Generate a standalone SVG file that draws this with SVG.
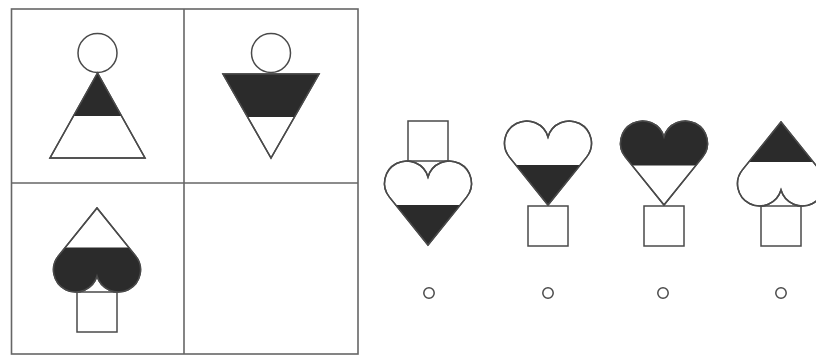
<svg xmlns="http://www.w3.org/2000/svg" xmlns:xlink="http://www.w3.org/1999/xlink" width="816" height="356" viewBox="0 0 816 356">
<style>
.ln{fill:none;stroke:#4a4a4a;stroke-width:1.5}
.wh{fill:#fff;stroke:#4a4a4a;stroke-width:1.5}
.bk{fill:#2b2b2b;stroke:none}
.grid{fill:none;stroke:#666;stroke-width:1.6}
</style>
<defs>
<path id="heart" d="M0,15.94 A22.2,22.2 0 1 1 38.58,36.14 L0,84 L-38.58,36.14 A22.2,22.2 0 1 1 0,15.94 Z"/>
<clipPath id="low" clipPathUnits="userSpaceOnUse"><rect x="-50" y="44" width="100" height="50"/></clipPath>
<clipPath id="up" clipPathUnits="userSpaceOnUse"><rect x="-50" y="-10" width="100" height="54.5"/></clipPath>
</defs>
<rect width="816" height="356" fill="#fff"/>
<g id="grid">
<rect class="grid" x="11.5" y="9" width="346.5" height="345"/>
<line class="grid" x1="184" y1="9" x2="184" y2="354"/>
<line class="grid" x1="11.5" y1="183" x2="358" y2="183"/>
</g>
<g id="cell1">
<circle class="wh" cx="97.5" cy="53" r="19.5"/>
<polygon class="wh" points="97.5,73 50,158 145,158"/>
<polygon class="bk" points="97.5,73 73.5,116 121.5,116"/>
<polygon class="ln" points="97.5,73 50,158 145,158"/>
</g>
<g id="cell2">
<circle class="wh" cx="271" cy="53" r="19.5"/>
<polygon class="wh" points="223,74 319,74 271,158"/>
<polygon class="bk" points="223,74 319,74 294.4,117 247.6,117"/>
<polygon class="ln" points="223,74 319,74 271,158"/>
</g>
<g id="cell3">
<rect class="wh" x="77" y="292" width="40" height="40"/>
<g transform="translate(97,292) scale(1,-1)">
<use xlink:href="#heart" class="wh"/>
<use xlink:href="#heart" class="bk" clip-path="url(#up)"/>
<use xlink:href="#heart" class="ln"/>
</g>
</g>
<g id="option1">
<g transform="translate(428,161)">
<use xlink:href="#heart" class="wh"/>
<use xlink:href="#heart" class="bk" clip-path="url(#low)"/>
<use xlink:href="#heart" class="ln"/>
</g>
<rect class="ln" x="408" y="121" width="40" height="40"/>
<circle class="ln" cx="429" cy="293" r="5.2"/>
</g>
<g id="option2">
<g transform="translate(548,121)">
<use xlink:href="#heart" class="wh"/>
<use xlink:href="#heart" class="bk" clip-path="url(#low)"/>
<use xlink:href="#heart" class="ln"/>
</g>
<rect class="wh" x="528" y="206" width="40" height="40"/>
<circle class="ln" cx="548" cy="293" r="5.2"/>
</g>
<g id="option3">
<g transform="translate(664,121)">
<use xlink:href="#heart" class="wh"/>
<use xlink:href="#heart" class="bk" clip-path="url(#up)"/>
<use xlink:href="#heart" class="ln"/>
</g>
<rect class="wh" x="644" y="206" width="40" height="40"/>
<circle class="ln" cx="663" cy="293" r="5.2"/>
</g>
<g id="option4">
<rect class="wh" x="761" y="206" width="40" height="40"/>
<g transform="translate(781,206) scale(1,-1)">
<use xlink:href="#heart" class="wh"/>
<use xlink:href="#heart" class="bk" clip-path="url(#low)"/>
<use xlink:href="#heart" class="ln"/>
</g>
<circle class="ln" cx="781" cy="293" r="5.2"/>
</g>
</svg>
